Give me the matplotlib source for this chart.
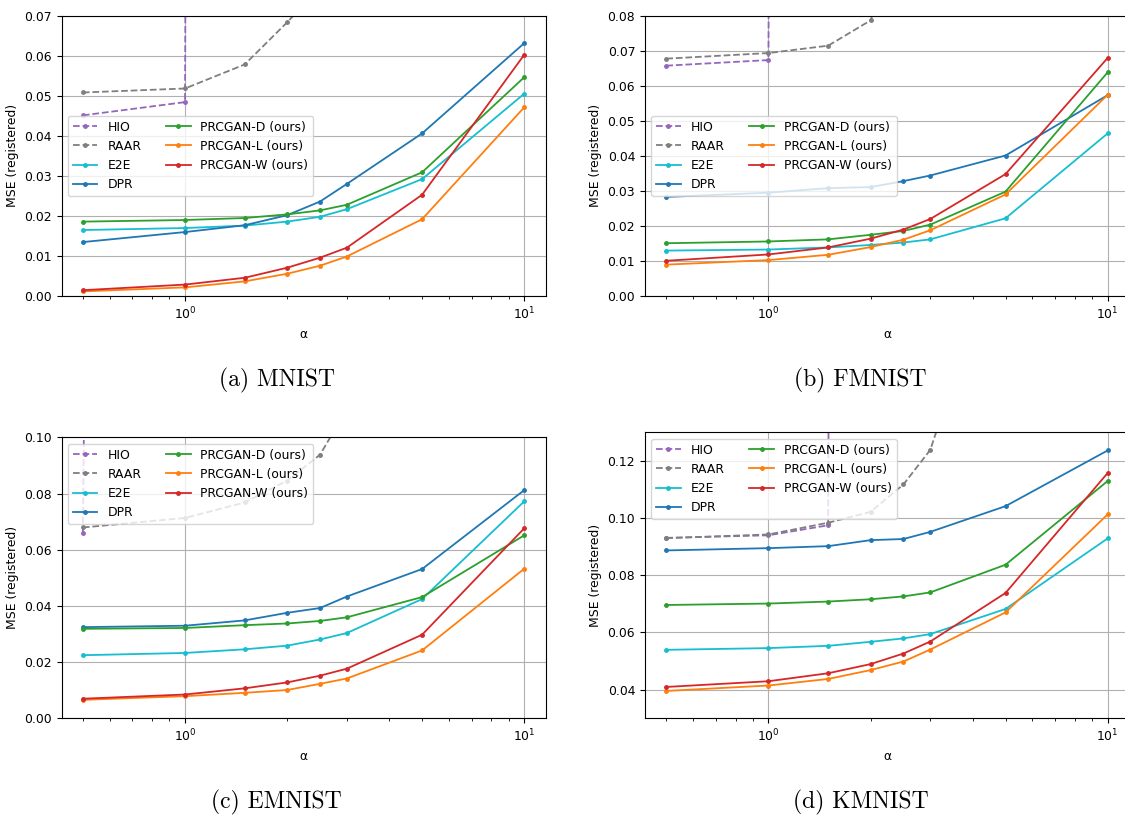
import numpy as np
import matplotlib
matplotlib.use("Agg")
import matplotlib.pyplot as plt

alpha = [0.5, 1, 1.5, 2, 2.5, 3, 5, 10]
methods = ["HIO", "RAAR", "E2E", "DPR", "PRCGAN-D (ours)", "PRCGAN-L (ours)", "PRCGAN-W (ours)"]
colors = ["tab:purple", "tab:gray", "tab:cyan", "tab:blue", "tab:green", "tab:orange", "tab:red"]
styles = ["--", "--", "-", "-", "-", "-", "-"]

# MNIST
mnist_hio = [0.0451, 0.0484, 4.1, 5.3, 6.0, 6.8, 9.2, 14.5]
mnist_raar = [0.0508, 0.0518, 0.0578, 0.0683, 0.077, 0.10, 0.20, 0.40]
mnist_e2e = [0.0165, 0.0170, 0.0176, 0.0186, 0.0198, 0.0217, 0.0292, 0.0505]
mnist_dpr = [0.0135, 0.0160, 0.0177, 0.0202, 0.0236, 0.0280, 0.0406, 0.0631]
mnist_d = [0.0186, 0.0190, 0.0195, 0.0204, 0.0214, 0.0228, 0.0309, 0.0546]
mnist_l = [0.0012, 0.0022, 0.0037, 0.0056, 0.0076, 0.0099, 0.0192, 0.0471]
mnist_w = [0.0015, 0.0029, 0.0046, 0.0071, 0.0096, 0.0121, 0.0253, 0.0602]

# FMNIST
fmnist_hio = [0.0657, 0.0673, 4.3, 5.1, 6.2, 7.0, 9.5, 15.0]
fmnist_raar = [0.0677, 0.0693, 0.0714, 0.0786, 0.105, 0.13, 0.25, 0.45]
fmnist_e2e = [0.0130, 0.0133, 0.0139, 0.0146, 0.0153, 0.0162, 0.0222, 0.0464]
fmnist_dpr = [0.0283, 0.0295, 0.0308, 0.0311, 0.0328, 0.0344, 0.0401, 0.0573]
fmnist_d = [0.0151, 0.0156, 0.0162, 0.0175, 0.0186, 0.0204, 0.0298, 0.0638]
fmnist_l = [0.0090, 0.0103, 0.0118, 0.0140, 0.0161, 0.0188, 0.0290, 0.0574]
fmnist_w = [0.0101, 0.0119, 0.0139, 0.0164, 0.0190, 0.0220, 0.0348, 0.0679]

# EMNIST
emnist_hio = [0.0660, 3.9, 4.8, 5.6, 6.3, 7.1, 9.4, 14.8]
emnist_raar = [0.0679, 0.0713, 0.0768, 0.0846, 0.0938, 0.110, 0.22, 0.42]
emnist_e2e = [0.0224, 0.0232, 0.0245, 0.0258, 0.0280, 0.0303, 0.0424, 0.0772]
emnist_dpr = [0.0324, 0.0329, 0.0348, 0.0375, 0.0392, 0.0433, 0.0531, 0.0812]
emnist_d = [0.0318, 0.0321, 0.0331, 0.0337, 0.0346, 0.0359, 0.0431, 0.0651]
emnist_l = [0.0065, 0.0078, 0.0090, 0.0100, 0.0122, 0.0141, 0.0241, 0.0532]
emnist_w = [0.0069, 0.0084, 0.0106, 0.0127, 0.0151, 0.0176, 0.0297, 0.0676]

# KMNIST
kmnist_hio = [0.0931, 0.0940, 0.0975, 4.4, 5.2, 6.1, 8.8, 13.9]
kmnist_raar = [0.0930, 0.0943, 0.0984, 0.1022, 0.1118, 0.1239, 0.203, 0.40]
kmnist_e2e = [0.0539, 0.0545, 0.0553, 0.0567, 0.0579, 0.0594, 0.0682, 0.0929]
kmnist_dpr = [0.0887, 0.0895, 0.0902, 0.0923, 0.0927, 0.0952, 0.1042, 0.1237]
kmnist_d = [0.0696, 0.0701, 0.0708, 0.0716, 0.0726, 0.0740, 0.0837, 0.1130]
kmnist_l = [0.0395, 0.0414, 0.0437, 0.0468, 0.0498, 0.0540, 0.0670, 0.1013]
kmnist_w = [0.0409, 0.0429, 0.0457, 0.0489, 0.0526, 0.0568, 0.0738, 0.1158]

plt.rcParams["font.size"] = 8.9

fig = plt.figure(figsize=(11.25, 8.16), dpi=100)

panels = [
    ([0.0547, 0.637, 0.4307, 0.344], [mnist_hio, mnist_raar, mnist_e2e, mnist_dpr, mnist_d, mnist_l, mnist_w],
     (0, 0.07), np.arange(0, 0.071, 0.01), "center left", "(a) MNIST", (0.246, 0.534)),
    ([0.5733, 0.637, 0.4307, 0.344], [fmnist_hio, fmnist_raar, fmnist_e2e, fmnist_dpr, fmnist_d, fmnist_l, fmnist_w],
     (0, 0.08), np.arange(0, 0.081, 0.01), "center left", "(b) FMNIST", (0.765, 0.534)),
    ([0.0547, 0.120, 0.4307, 0.344], [emnist_hio, emnist_raar, emnist_e2e, emnist_dpr, emnist_d, emnist_l, emnist_w],
     (0, 0.10), np.arange(0, 0.101, 0.02), "upper left", "(c) EMNIST", (0.246, 0.017)),
    ([0.5733, 0.120, 0.4307, 0.350], [kmnist_hio, kmnist_raar, kmnist_e2e, kmnist_dpr, kmnist_d, kmnist_l, kmnist_w],
     (0.03, 0.13), np.arange(0.04, 0.121, 0.02), "upper left", "(d) KMNIST", (0.765, 0.017)),
]

for rect, series, ylim, yticks, loc, caption, cpos in panels:
    ax = fig.add_axes(rect)
    for name, vals, c, ls in zip(methods, series, colors, styles):
        ax.plot(alpha, vals, linestyle=ls, marker=".", markersize=5, linewidth=1.3, color=c, label=name)
    ax.set_xscale("log")
    ax.set_xlim(0.4325, 11.6)
    ax.set_ylim(*ylim)
    ax.set_yticks(yticks)
    ax.yaxis.set_major_formatter(matplotlib.ticker.FormatStrFormatter("%.2f"))
    ax.grid(True)
    ax.set_xlabel("α")
    ax.set_ylabel("MSE (registered)")
    ax.legend(loc=loc, ncol=2)
    fig.text(cpos[0], cpos[1], caption, ha="center", va="center", fontsize=17, fontfamily="cmr10")

fig.savefig("out.png", dpi=100)
